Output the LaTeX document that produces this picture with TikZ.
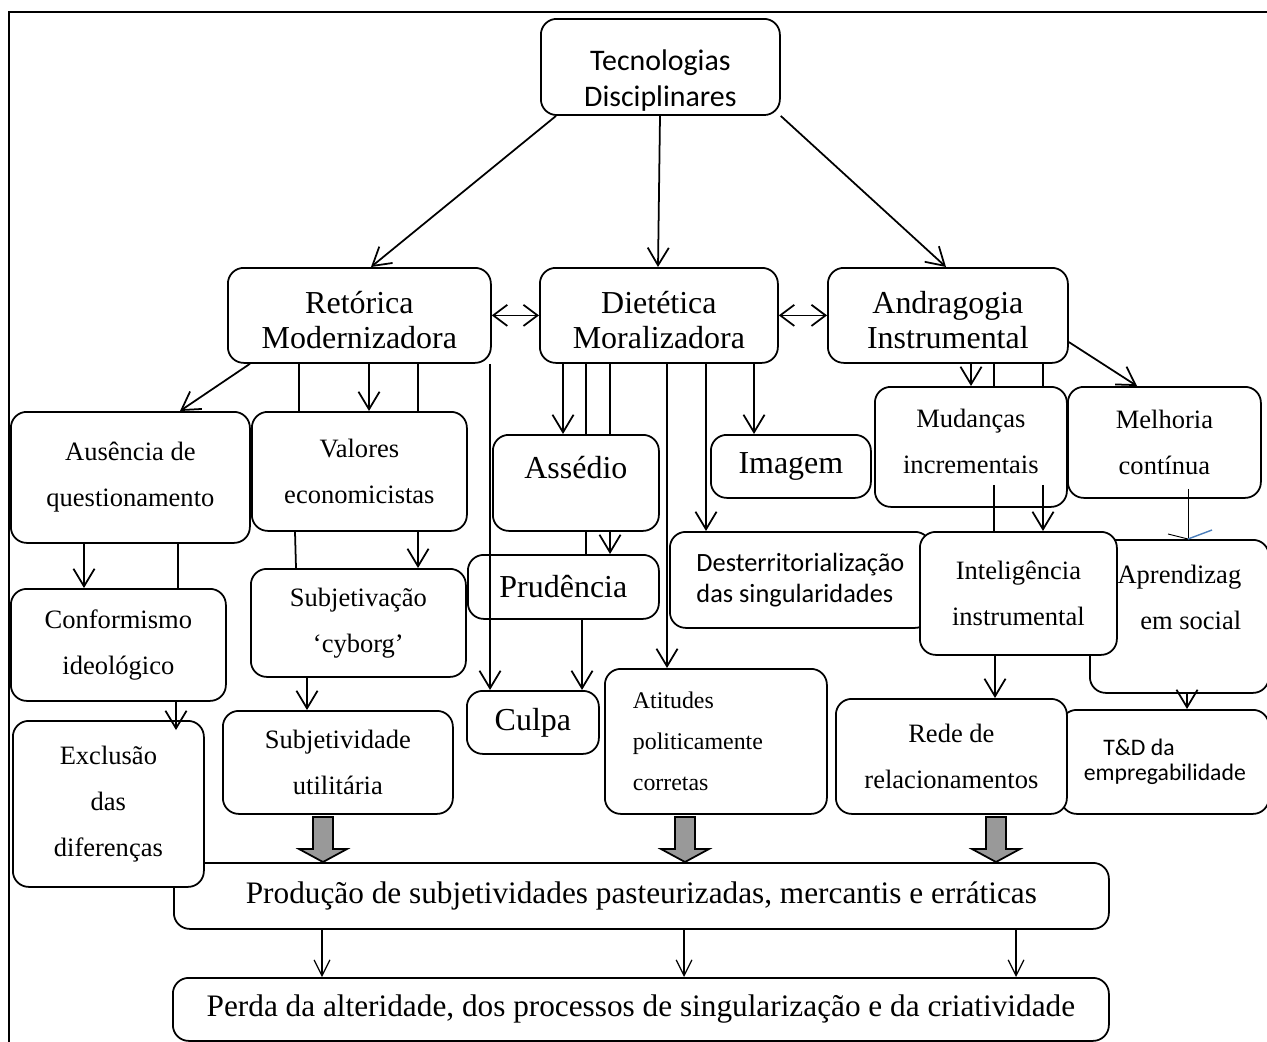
\documentclass[tikz,border=0pt]{standalone}
\usepackage{fontspec}
\setmainfont{Liberation Serif}
\newfontfamily\calibri{Carlito}
\usepackage{tikz}
\usetikzlibrary{
    calc,
    arrows.meta
}
\definecolor{cinza}{HTML}{999999}
\definecolor{azul}{HTML}{4A7EBB}
\tikzset{
    caixa/.style={draw, fill=white, rounded corners=9pt, line width=1pt,
        inner sep=2pt, align=center, anchor=north west},
    tam/.style 2 args={minimum width=#1*0.02cm, minimum height=#2*0.02cm},
    grande/.style={font=\fontsize{18.2}{20}\selectfont},
    medio/.style={font=\fontsize{15.1}{26.2}\selectfont},
    largo/.style={font=\fontsize{17.8}{20}\selectfont},
    seta/.style={-{Straight Barb[length=10pt,width=12pt]}, line width=1pt},
    setadupla/.style={{Straight Barb[length=8pt,width=12pt]}-{Straight Barb[length=8pt,width=12pt]}, line width=1pt},
    setafina/.style={-{Straight Barb[length=9pt,width=9pt]}, line width=0.7pt},
    linha/.style={line width=1pt},
    bloco/.style={draw, fill=cinza, line width=1pt, line join=miter}
}

\begin{document}
\begin{tikzpicture}[x=0.02cm, y=-0.02cm]
    \useasboundingbox (0,0) rectangle (1267,1041);
    \draw[line width=1.2pt] (9,1100) -- (9,12) -- (1300,12);

    % topo
    \node[caixa, tam={239}{95}, text height=48pt, font=\calibri\fontsize{17}{20.5}\selectfont] (tec) at (540,18) {Tecnologias\\Disciplinares};
    \node[caixa, grande, tam={263}{95}, text height=38pt] (ret) at (227,267) {Retórica\\Modernizadora};
    \node[caixa, grande, tam={238}{95}, text height=38pt] (die) at (539,267) {Dietética\\Moralizadora};
    \node[caixa, grande, tam={240}{95}, text height=38pt] (andr) at (827,267) {Andragogia\\Instrumental};

    % segundo nivel
    \node[caixa, medio, tam={239}{131}] (aus) at (10,411) {Ausência de\\questionamento};
    \node[caixa, medio, tam={215}{119}] (val) at (251,411) {Valores\\economicistas};
    \node[caixa, grande, tam={166}{96}, text depth=18pt] (ass) at (492,434) {Assédio};
    \node[caixa, grande, tam={160}{63}] (ima) at (710,434) {Imagem};
    \node[caixa, medio, tam={192}{120}, text depth=6pt] (mud) at (874,386) {Mudanças\\incrementais};
    \node[caixa, medio, tam={193}{111}] (mel) at (1067,386) {Melhoria\\contínua};

    \node[caixa, grande, tam={191}{64}] (pru) at (467,554) {Prudência};
    \node[caixa, tam={261}{96}, align=left, font=\calibri\fontsize{15}{17.6}\selectfont] (des) at (669,531) {Desterritorialização\\das singularidades};
    \node[caixa, medio, tam={179}{153}, text depth=22pt, align=right] (apr) at (1089,539) {Aprendizag\\em social};
    \node[caixa, medio, tam={197}{123}] (int) at (919,531) {Inteligência\\instrumental};
    \node[caixa, medio, tam={215}{112}] (con) at (10,588) {Conformismo\\ideológico};
    \node[caixa, medio, tam={215}{108}] (sbv) at (250,568) {Subjetivação\\‘cyborg’};

    \node[caixa, medio, tam={230}{103}] (sut) at (222,710) {Subjetividade\\utilitária};
    \node[caixa, grande, tam={132}{63}] (cul) at (466,690) {Culpa};
    \node[caixa, tam={222}{145}, align=left, text width=3.32cm, font=\fontsize{13.6}{23.3}\selectfont] (ati) at (604,668) {Atitudes\\politicamente\\corretas};
    \node[caixa, tam={208}{104}, align=left, font=\calibri\fontsize{13.5}{14}\selectfont] (tnd) at (1060,709) {\hspace*{11pt}T\&D da\\empregabilidade};
    \node[caixa, medio, tam={231}{115}] (red) at (835,698) {Rede de\\relacionamentos};

    % base
    \node[caixa, largo, tam={935}{66}] (pro) at (173,862) {Produção de subjetividades pasteurizadas, mercantis e erráticas};
    \node[caixa, largo, tam={936}{63}] (per) at (172,977) {Perda da alteridade, dos processos de singularização e da criatividade};
    \node[caixa, medio, tam={191}{166}] (exc) at (12,720) {Exclusão\\das\\diferenças};

    % setas do topo
    \draw[seta] (556,0 |- tec.south) -- (371,0 |- ret.north);
    \draw[seta] (660,0 |- tec.south) -- (658,0 |- die.north);
    \draw[seta] (tec.south east) -- (946,0 |- andr.north);
    \draw[setadupla] (ret.east) -- (die.west);
    \draw[setadupla] (die.east) -- (andr.west);

    % Retorica
    \draw[seta] (250,0 |- ret.south) -- (180,0 |- aus.north);
    \draw[linha] (299,0 |- ret.south) -- (299,0 |- val.north);
    \draw[seta] (369,0 |- ret.south) -- (369,0 |- val.north);
    \draw[linha] (418,0 |- ret.south) -- (418,0 |- val.north);
    \draw[seta] (490,0 |- ret.south) -- (490,0 |- cul.north);
    \draw[seta] (84,0 |- aus.south) -- (84,0 |- con.north);
    \draw[linha] (178,0 |- aus.south) -- (178,0 |- con.north);
    \draw[seta] (176,0 |- con.south) -- ([yshift=-10*0.02cm]exc.north -| 176,0);
    \draw[linha] (295,0 |- val.south) -- (296,0 |- sbv.north);
    \draw[seta] (418,0 |- val.south) -- (418,0 |- sbv.north);
    \draw[seta] (307,0 |- sbv.south) -- (307,0 |- sut.north);

    % Dietetica
    \draw[seta] (563,0 |- die.south) -- (563,0 |- ass.north);
    \draw[linha] (586,0 |- die.south) -- (586,0 |- ass.north);
    \draw[linha] (610,0 |- die.south) -- (610,0 |- ass.north);
    \draw[seta] (667,0 |- die.south) -- (667,0 |- ati.north);
    \draw[seta] (706,0 |- die.south) -- (706,0 |- des.north);
    \draw[seta] (754,0 |- die.south) -- (754,0 |- ima.north);
    \draw[linha] (586,0 |- ass.south) -- (586,0 |- pru.north);
    \draw[seta] (610,0 |- ass.south) -- (610,0 |- pru.north);
    \draw[seta] (582,0 |- pru.south) -- (582,0 |- cul.north);

    % Andragogia
    \draw[seta] (971,0 |- andr.south) -- (971,0 |- mud.north);
    \draw[linha] (994,0 |- andr.south) -- (994,0 |- mud.north);
    \draw[linha] (1043,0 |- andr.south) -- (1043,0 |- mud.north);
    \draw[seta] (andr.east |- 0,342) -- (1137,0 |- mel.north);
    \draw[linha] ([yshift=23*0.02cm]mud.south -| 994,0) -- (994,0 |- int.north);
    \draw[seta] ([yshift=23*0.02cm]mud.south -| 1043,0) -- (1043,0 |- int.north);
    \draw[line width=0.5pt] ([yshift=10*0.02cm]mel.south -| 1188,0) -- (1188,0 |- apr.north)
        coordinate (tick);
    \draw[line width=0.5pt] (tick) -- ++(-20,-5);
    \draw[azul, line width=0.8pt] (tick) -- ++(24,-9);
    \draw[seta] (995,0 |- int.south) -- (995,0 |- red.north);
    \draw[seta] (1187,0 |- apr.south) -- (1187,0 |- tnd.north);

    % setas largas e finais
    \foreach \gx in {323,685,996}
        \draw[bloco] (\gx-10,817) -- (\gx+10,817) -- (\gx+10,849) -- (\gx+24,849)
            -- (\gx,0 |- pro.north) -- (\gx-24,849) -- (\gx-10,849) -- cycle;
    \foreach \gx in {322,684,1016}
        \draw[setafina] (\gx,0 |- pro.south) -- (\gx,0 |- per.north);
\end{tikzpicture}
\end{document}
